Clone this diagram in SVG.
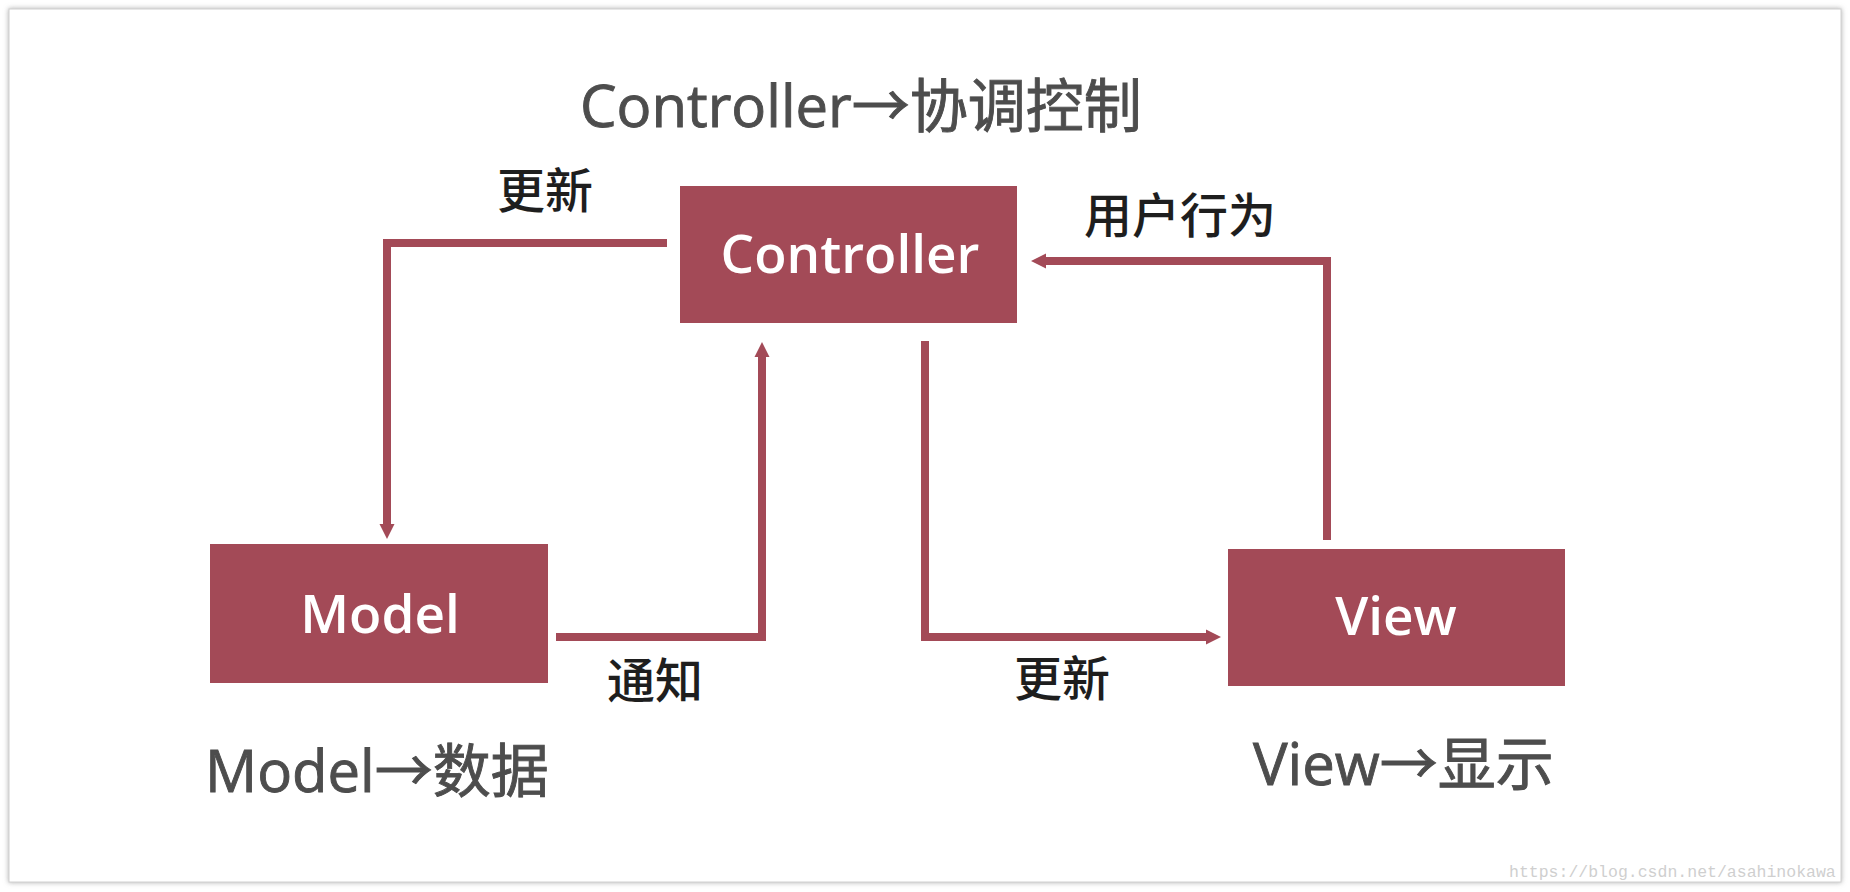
<svg xmlns="http://www.w3.org/2000/svg" width="1850" height="892" viewBox="0 0 1850 892">
  <defs>
    <style>
      .box { fill: #A34A57; }
      .boxtext { font-family: "Open Sans", "Noto Sans CJK SC", sans-serif; font-size: 53px; font-weight: 600; fill: #ffffff; text-anchor: middle; }
      .big { font-family: "Open Sans", "Noto Sans CJK SC", sans-serif; font-size: 58px; fill: #4d4d4d; stroke: #4d4d4d; stroke-width: 0.9; }
      .lbl { font-family: "Noto Sans CJK SC", sans-serif; font-size: 48px; font-weight: 500; fill: #1e1e1e; text-anchor: middle; }
      .conn { fill: none; stroke: #A34A57; stroke-width: 8; stroke-linejoin: miter; stroke-linecap: butt; }
      .wm { font-family: "Liberation Mono", monospace; font-size: 16.5px; fill: #cfcfcf; }
    </style>
    <marker id="arrow" markerUnits="userSpaceOnUse" markerWidth="16" markerHeight="16" refX="0" refY="8" orient="auto">
      <path d="M0,0.5 L15,8 L0,15.5 z" fill="#A34A57"/>
    </marker>
    <filter id="shadow" x="-2%" y="-2%" width="104%" height="104%">
      <feDropShadow dx="0" dy="0" stdDeviation="2.5" flood-color="#888888" flood-opacity="0.7"/>
    </filter>
  </defs>

  <rect x="0" y="0" width="1850" height="892" fill="#ffffff"/>
  <rect x="9" y="9" width="1832" height="873" fill="#ffffff" stroke="#d0d0d0" stroke-width="1" filter="url(#shadow)"/>

  <g id="title">
    <text class="big" x="580" y="127">Controller→协调控制</text>
  </g>

  <g id="connectors">
    <polyline class="conn" points="667,243 387,243 387,524" marker-end="url(#arrow)"/>
    <polyline class="conn" points="556,637 762,637 762,357" marker-end="url(#arrow)"/>
    <polyline class="conn" points="925,341 925,637 1206,637" marker-end="url(#arrow)"/>
    <polyline class="conn" points="1327,540 1327,261 1046,261" marker-end="url(#arrow)"/>
  </g>

  <g id="labels">
    <text class="lbl" x="545" y="208">更新</text>
    <text class="lbl" x="1180" y="233">用户行为</text>
    <text class="lbl" x="655" y="698">通知</text>
    <text class="lbl" x="1062" y="696">更新</text>
  </g>

  <g id="controller">
    <rect class="box" x="680" y="186" width="337" height="137"/>
    <text class="boxtext" x="850" y="273">Controller</text>
  </g>

  <g id="model">
    <rect class="box" x="210" y="544" width="338" height="139"/>
    <text class="boxtext" x="380" y="633">Model</text>
    <text class="big" x="205" y="792">Model→数据</text>
  </g>

  <g id="view">
    <rect class="box" x="1228" y="549" width="337" height="137"/>
    <text class="boxtext" x="1396" y="635">View</text>
    <text class="big" x="1253" y="785">View→显示</text>
  </g>

  <g id="watermark">
    <text class="wm" x="1509" y="877">https://blog.csdn.net/asahinokawa</text>
  </g>
</svg>
